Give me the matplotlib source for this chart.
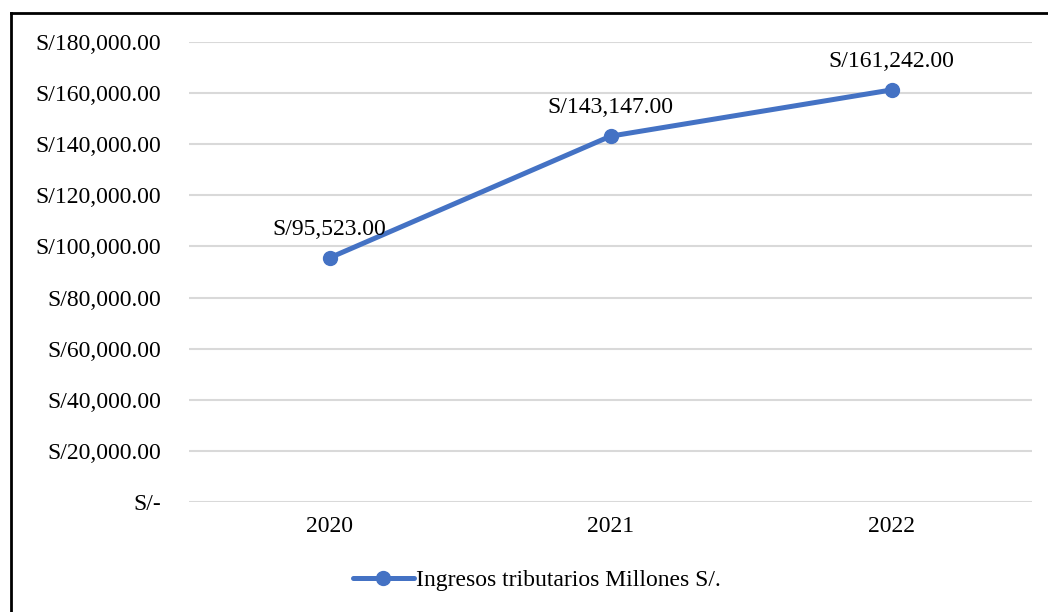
import matplotlib
matplotlib.use("Agg")
import matplotlib.pyplot as plt
from matplotlib.lines import Line2D

years = ["2020", "2021", "2022"]
values = [95523.00, 143147.00, 161242.00]
series_name = "Ingresos tributarios Millones S/."
yticks = [0, 20000, 40000, 60000, 80000, 100000, 120000, 140000, 160000, 180000]

plt.rcParams['font.family'] = ['Liberation Serif', 'DejaVu Serif']
W, H = 1048, 612
fig = plt.figure(figsize=(W/100, H/100), dpi=100)
ax = fig.add_axes([189/W, 1-502/H, (1032-189)/W, (502-42)/H])

color = '#4472C4'
x = list(range(len(years)))
ax.plot(x, values, color=color, lw=3.6, marker='o', ms=10, solid_capstyle='round', zorder=3)
for xi, v in zip(x, values):
    ax.annotate(f"S/{v:,.2f}", (xi, v), xytext=(0, 13), textcoords='offset points',
                ha='center', va='bottom', fontsize=17, color='#000000')

ax.set_xlim(-0.5, 2.5)
ax.set_ylim(0, 180000)
ax.set_yticks(yticks)
ax.set_yticklabels(["S/-" if t == 0 else f"S/{t:,.2f}" for t in yticks])
ax.set_xticks(x)
ax.set_xticklabels(years)
ax.tick_params(axis='both', length=0, labelsize=17, colors='#000000')
ax.tick_params(axis='y', pad=20)
ax.tick_params(axis='x', pad=10)
ax.grid(axis='y', color='#D9D9D9', lw=1.5)
ax.set_axisbelow(True)
for s in ax.spines.values():
    s.set_visible(False)

handle = Line2D([0], [0], color=color, lw=3.6, marker='o', ms=10, solid_capstyle='round')
fig.legend([handle], [series_name], loc='center', bbox_to_anchor=(537/W, 1-580/H),
           frameon=False, fontsize=17, handlelength=2.6, handletextpad=0.1)

# outer border (top and left visible)
fig.add_artist(Line2D([11/W, 11/W], [0, 1-13/H], color='black', lw=2, transform=fig.transFigure))
fig.add_artist(Line2D([11/W, 1], [1-13/H, 1-13/H], color='black', lw=2, transform=fig.transFigure))

fig.savefig("out.png", dpi=100)
